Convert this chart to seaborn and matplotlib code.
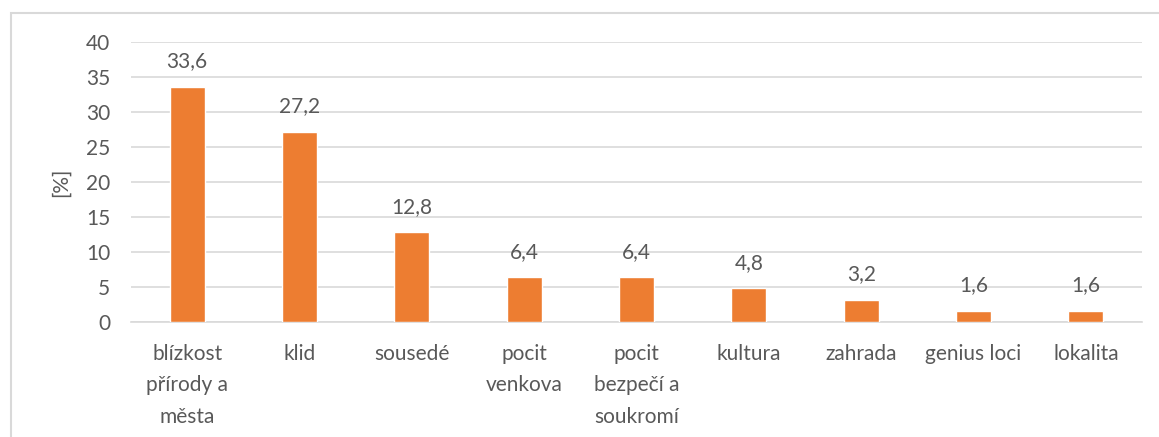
import matplotlib
matplotlib.use("Agg")
import matplotlib.pyplot as plt
from matplotlib.patches import Rectangle
import seaborn as sns
import pandas as pd

# data
categories = ["blízkost\npřírody a\nměsta", "klid", "sousedé", "pocit\nvenkova",
              "pocit\nbezpečí a\nsoukromí", "kultura", "zahrada", "genius loci", "lokalita"]
values = [33.6, 27.2, 12.8, 6.4, 6.4, 4.8, 3.2, 1.6, 1.6]
y_ticks = [0, 5, 10, 15, 20, 25, 30, 35, 40]

bar_color = "#ED7D31"
text_color = "#595959"
grid_color = "#D9D9D9"
fs = 15

sns.set_style("white")
plt.rcParams["font.family"] = ["Lato", "DejaVu Sans"]

df = pd.DataFrame({"kategorie": categories, "podil": values})

fig = plt.figure(figsize=(11.59, 4.37), dpi=100)
ax = fig.add_axes([131 / 1159, 1 - 322 / 437, (1142 - 131) / 1159, (322 - 42) / 437])

sns.barplot(data=df, x="kategorie", y="podil", color=bar_color, saturation=1,
            width=0.31, ax=ax, zorder=3)

ax.set_ylim(0, 40)
ax.set_yticks(y_ticks)
ax.set_xlim(-0.5, len(categories) - 0.5)
ax.grid(axis="y", color=grid_color, linewidth=1.2, zorder=0)
ax.set_axisbelow(True)
for s in ["top", "right", "left"]:
    ax.spines[s].set_visible(False)
ax.spines["bottom"].set_color(grid_color)
ax.spines["bottom"].set_linewidth(1.2)

ax.tick_params(axis="both", length=0, labelsize=fs, labelcolor=text_color)
ax.tick_params(axis="y", pad=15)
ax.tick_params(axis="x", pad=16)
for lbl in ax.get_xticklabels():
    lbl.set_linespacing(1.7)

ax.set_xlabel("")
ax.set_ylabel("[%]", fontsize=fs, color=text_color, labelpad=11)

ax.bar_label(ax.containers[0], labels=[f"{v:.1f}".replace(".", ",") for v in values],
             padding=11, fontsize=fs, color=text_color)

# chart frame like the Excel chart area
fig.patches.append(Rectangle((11 / 1159, -0.1), 1.2, 1 - 13 / 437 + 0.1,
                             transform=fig.transFigure, fill=False,
                             edgecolor=grid_color, linewidth=1.5))

fig.savefig("out.png", dpi=100)
